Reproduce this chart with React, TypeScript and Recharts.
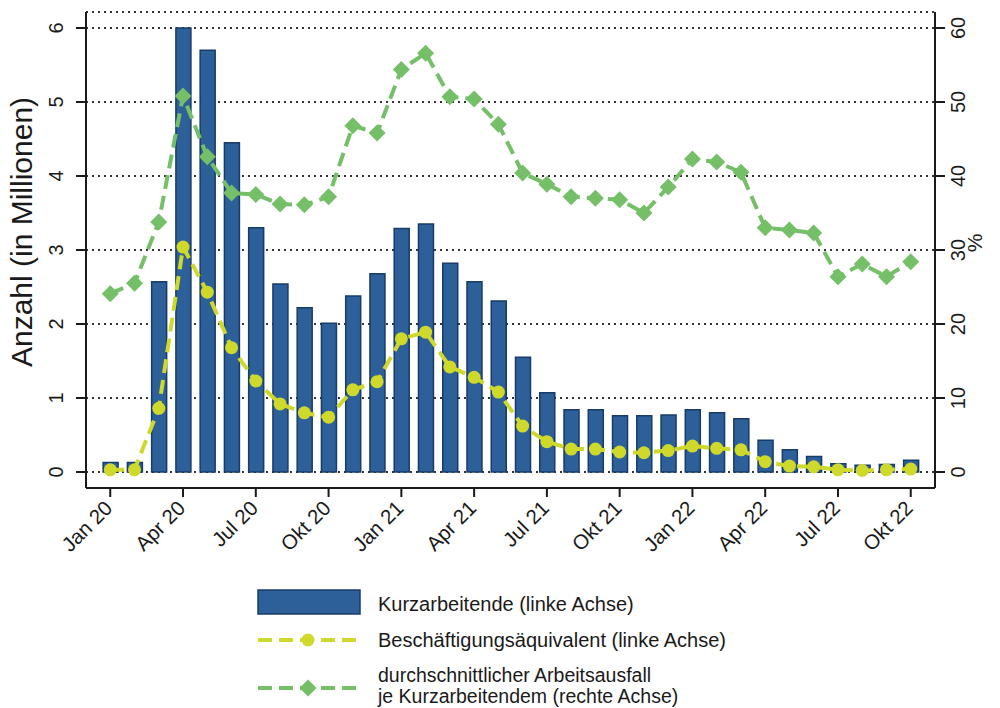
import React from "react";
import {
  ComposedChart,
  Bar,
  Line,
  XAxis,
  YAxis,
  CartesianGrid,
} from "recharts";

const months = [
  "Jan 20", "Feb 20", "Mär 20", "Apr 20", "Mai 20", "Jun 20", "Jul 20", "Aug 20", "Sep 20", "Okt 20", "Nov 20", "Dez 20",
  "Jan 21", "Feb 21", "Mär 21", "Apr 21", "Mai 21", "Jun 21", "Jul 21", "Aug 21", "Sep 21", "Okt 21", "Nov 21", "Dez 21",
  "Jan 22", "Feb 22", "Mär 22", "Apr 22", "Mai 22", "Jun 22", "Jul 22", "Aug 22", "Sep 22", "Okt 22",
];

// Kurzarbeitende, Mio. (linke Achse)
const kurzarbeitende = [
  0.13, 0.13, 2.57, 6.0, 5.7, 4.45, 3.3, 2.54, 2.22, 2.01, 2.38, 2.68,
  3.29, 3.35, 2.82, 2.57, 2.31, 1.55, 1.07, 0.84, 0.84, 0.76, 0.76, 0.77,
  0.84, 0.8, 0.72, 0.43, 0.3, 0.21, 0.11, 0.09, 0.1, 0.16,
];

// Beschäftigungsäquivalent, Mio. (linke Achse)
const aequivalent = [
  0.03, 0.03, 0.86, 3.04, 2.43, 1.68, 1.23, 0.92, 0.8, 0.74, 1.11, 1.22,
  1.8, 1.89, 1.42, 1.28, 1.08, 0.62, 0.41, 0.31, 0.31, 0.27, 0.26, 0.29,
  0.35, 0.32, 0.3, 0.14, 0.08, 0.07, 0.03, 0.02, 0.03, 0.04,
];

// durchschnittlicher Arbeitsausfall in % (rechte Achse)
const arbeitsausfall = [
  24.1, 25.5, 33.8, 50.8, 42.6, 37.7, 37.5, 36.2, 36.1, 37.2, 46.8, 45.8,
  54.4, 56.6, 50.7, 50.4, 47.0, 40.4, 38.9, 37.2, 37.0, 36.8, 35.0, 38.5,
  42.3, 41.9, 40.5, 33.0, 32.7, 32.3, 26.4, 28.1, 26.4, 28.4,
];

const xTickLabels = ["Jan 20", "Apr 20", "Jul 20", "Okt 20", "Jan 21", "Apr 21", "Jul 21", "Okt 21", "Jan 22", "Apr 22", "Jul 22", "Okt 22"];
const leftTicks = [0, 1, 2, 3, 4, 5, 6];
const rightTicks = [0, 10, 20, 30, 40, 50, 60];

const BLUE = "#2d5f98";
const BLUE_EDGE = "#173c6b";
const YELLOW = "#cfd92b";
const GREEN = "#74bf68";
const INK = "#1a1a1a";
const FONT = "'Liberation Sans', Arial, sans-serif";

const data = months.map((m, i) => ({
  i,
  month: m,
  kurz: kurzarbeitende[i],
  aeq: aequivalent[i],
  ausfall: arbeitsausfall[i],
}));

const xTickPos = xTickLabels.map((l) => months.indexOf(l));

function XTick(props: any) {
  const { x, y, payload } = props;
  const ax = x - 7;
  return (
    <text
      x={ax}
      y={y}
      dy="0.72em"
      textAnchor="end"
      transform={`rotate(-45 ${ax} ${y})`}
      fontSize={20.5}
      fill={INK}
      fontFamily={FONT}
    >
      {months[payload.value]}
    </text>
  );
}

function LeftTick(props: any) {
  const { x, y, payload } = props;
  const tx = x - 11;
  return (
    <text x={tx} y={y} textAnchor="middle" transform={`rotate(-90 ${tx} ${y})`} fontSize={20} fill={INK} fontFamily={FONT}>
      {payload.value}
    </text>
  );
}

function RightTick(props: any) {
  const { x, y, payload } = props;
  const tx = x + 18;
  return (
    <text x={tx} y={y} textAnchor="middle" transform={`rotate(-90 ${tx} ${y})`} fontSize={20} fill={INK} fontFamily={FONT}>
      {payload.value}
    </text>
  );
}

function CircleDot(props: any) {
  const { cx, cy, index } = props;
  if (cx == null || cy == null) return null;
  return <circle key={`c${index}`} cx={cx} cy={cy} r={6.5} fill={YELLOW} />;
}

function DiamondDot(props: any) {
  const { cx, cy, index } = props;
  if (cx == null || cy == null) return null;
  const d = 8.5;
  return (
    <polygon
      key={`d${index}`}
      points={`${cx},${cy - d} ${cx + d},${cy} ${cx},${cy + d} ${cx - d},${cy}`}
      fill={GREEN}
    />
  );
}

export default function App() {
  return (
    <div
      style={{
        position: "absolute",
        left: 0,
        top: 0,
        width: 1000,
        height: 708,
        background: "#fff",
        fontFamily: FONT,
      }}
    >
      <ComposedChart
        width={1000}
        height={708}
        data={data}
        margin={{ top: 12, right: 0, bottom: 120, left: 0 }}
      >
        <CartesianGrid
          yAxisId="left"
          vertical={false}
          stroke="#333"
          strokeDasharray="2 4"
          strokeWidth={2}
        />
        <XAxis
          dataKey="i"
          type="number"
          domain={[-1, 34]}
          ticks={xTickPos}
          interval={0}
          allowDataOverflow
          height={100}
          tickSize={9}
          tick={<XTick />}
          axisLine={{ stroke: INK, strokeWidth: 2 }}
          tickLine={{ stroke: INK, strokeWidth: 2 }}
        />
        <YAxis
          yAxisId="left"
          orientation="left"
          width={86}
          domain={[-0.2162, 6.2162]}
          ticks={leftTicks}
          interval={0}
          allowDataOverflow
          tickSize={10}
          tick={<LeftTick />}
          axisLine={{ stroke: INK, strokeWidth: 2 }}
          tickLine={{ stroke: INK, strokeWidth: 2 }}
        />
        <YAxis
          yAxisId="right"
          orientation="right"
          width={65}
          domain={[-2.162, 62.162]}
          ticks={rightTicks}
          interval={0}
          allowDataOverflow
          tickSize={10}
          tick={<RightTick />}
          axisLine={{ stroke: INK, strokeWidth: 2 }}
          tickLine={{ stroke: INK, strokeWidth: 2 }}
        />
        <Bar
          yAxisId="left"
          dataKey="kurz"
          barSize={15}
          fill={BLUE}
          stroke={BLUE_EDGE}
          strokeWidth={1.5}
          isAnimationActive={false}
        />
        <Line
          yAxisId="right"
          dataKey="ausfall"
          type="linear"
          stroke={GREEN}
          strokeWidth={4}
          strokeDasharray="14 7"
          dot={DiamondDot}
          activeDot={false}
          isAnimationActive={false}
        />
        <Line
          yAxisId="left"
          dataKey="aeq"
          type="linear"
          stroke={YELLOW}
          strokeWidth={4}
          strokeDasharray="14 7"
          dot={CircleDot}
          activeDot={false}
          isAnimationActive={false}
        />
      </ComposedChart>

      <svg
        width={1000}
        height={708}
        style={{ position: "absolute", left: 0, top: 0, pointerEvents: "none" }}
      >
        {/* axis titles */}
        <text x={32} y={232} textAnchor="middle" transform="rotate(-90 32 232)" fontSize={30} fill={INK} fontFamily={FONT}>
          Anzahl (in Millionen)
        </text>
        <text x={982} y={243} textAnchor="middle" transform="rotate(-90 982 243)" fontSize={21} fill={INK} fontFamily={FONT}>
          %
        </text>

        {/* legend */}
        <rect x={258} y={590} width={102} height={24} fill={BLUE} stroke={BLUE_EDGE} strokeWidth={1.5} />
        <text x={378} y={611} fontSize={20} fill={INK} fontFamily={FONT}>
          Kurzarbeitende (linke Achse)
        </text>

        <line x1={258} x2={360} y1={640} y2={640} stroke={YELLOW} strokeWidth={4} strokeDasharray="14 7" />
        <circle cx={308} cy={640} r={6.5} fill={YELLOW} />
        <text x={378} y={647} fontSize={20} fill={INK} fontFamily={FONT}>
          Beschäftigungsäquivalent (linke Achse)
        </text>

        <line x1={258} x2={360} y1={688} y2={688} stroke={GREEN} strokeWidth={4} strokeDasharray="14 7" />
        <polygon points="308,679.5 316.5,688 308,696.5 299.5,688" fill={GREEN} />
        <text x={378} y={682} fontSize={19.5} fill={INK} fontFamily={FONT}>
          durchschnittlicher Arbeitsausfall
        </text>
        <text x={378} y={703} fontSize={19.5} fill={INK} fontFamily={FONT}>
          je Kurzarbeitendem (rechte Achse)
        </text>
      </svg>
    </div>
  );
}
